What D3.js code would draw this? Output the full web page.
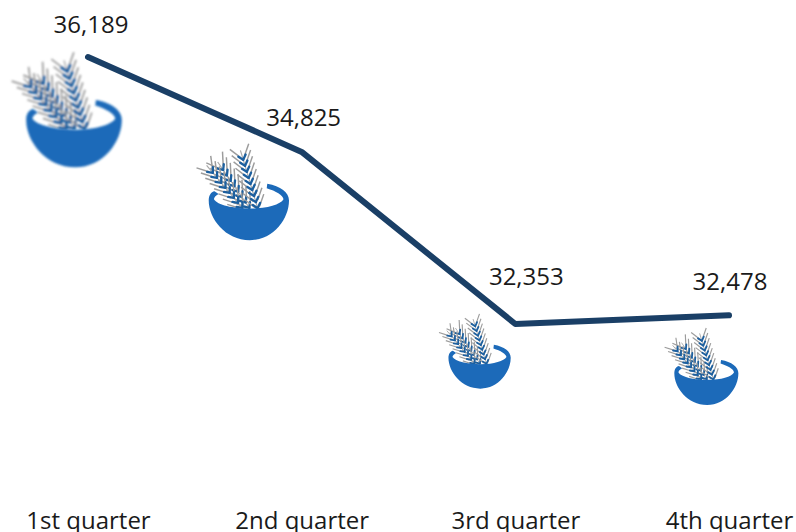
<!DOCTYPE html>
<html>
<head>
<meta charset="utf-8">
<script src="https://cdn.jsdelivr.net/npm/d3@7"></script>
<style>
html,body{margin:0;padding:0;background:#fff}
svg{display:block}
text{font-family:"Open Sans",sans-serif;font-size:24px;fill:#1a1a1a}
</style>
</head>
<body>
<svg id="chart" width="796" height="532"></svg>
<script>
const categories = ["1st quarter","2nd quarter","3rd quarter","4th quarter"];
const values = [36189,34825,32353,32478];
const valueLabels = ["36,189","34,825","32,353","32,478"];

// layout only
const labelDx = [3,2,11,1], labelDy = [-24,-26,-39,-25];
const iconDx = [-19,-57,-39,-26], iconDy = [54,41,28,52];
const iconW = [106,89,69,71];

const svg=d3.select("#chart");
const x=d3.scalePoint().domain(categories).range([88,729]);
const y=d3.scaleLinear().domain([32353,36189]).range([324,57]);

const defs=svg.append("defs");
defs.append("filter").attr("id","soft").attr("x","-10%").attr("y","-10%").attr("width","120%").attr("height","120%")
  .append("feGaussianBlur").attr("stdDeviation",2.6);
const sym=defs.append("g").attr("id","icon");

// icon glyph drawn in a 307x325 design box
const ears=[
  {tip:[96,100],base:[190,236],n:8,len:50,fan:34},
  {tip:[60,110],base:[166,236],n:8,len:46,fan:32},
  {tip:[166,64],base:[218,238],n:9,len:44,fan:34}
];
sym.append("path").attr("fill","#fff").attr("d","M66,204 C90,172 280,172 306,204 C296,226 250,240 192,240 C132,240 78,224 66,204Z");
const wheat=sym.append("g").attr("filter","url(#soft)");
ears.forEach(e=>{
  const dx=e.base[0]-e.tip[0],dy=e.base[1]-e.tip[1],L=Math.hypot(dx,dy);
  const ux=dx/L,uy=dy/L,nx=-uy,ny=ux;
  d3.range(e.n).forEach(i=>{
    const t=i/(e.n-1);
    const px=e.tip[0]+dx*t,py=e.tip[1]+dy*t;
    [-1,1].forEach(s=>{
      const ax=px+nx*s*e.fan-ux*e.len,ay=py+ny*s*e.fan-uy*e.len;
      wheat.append("line").attr("x1",px+nx*s*8-ux*8).attr("y1",py+ny*s*8-uy*8).attr("x2",ax).attr("y2",ay)
        .attr("stroke","#9c9c9c").attr("stroke-width",5);
    });
  });
  wheat.append("line").attr("x1",e.tip[0]-ux*30).attr("y1",e.tip[1]-uy*30).attr("x2",e.base[0]).attr("y2",e.base[1])
    .attr("stroke","#a8a8a8").attr("stroke-width",4);
  d3.range(e.n).forEach(i=>{
    const t=0.02+0.96*i/(e.n-1);
    const px=e.tip[0]+dx*t,py=e.tip[1]+dy*t;
    [-1,1].forEach(s=>{
      wheat.append("line").attr("x1",px).attr("y1",py)
        .attr("x2",px+nx*s*13-ux*15).attr("y2",py+ny*s*13-uy*15)
        .attr("stroke","#1f609f").attr("stroke-width",8).attr("stroke-linecap","round");
    });
  });
});
sym.append("g").attr("filter","url(#soft)").append("path").attr("fill","#1d6ab9")
  .attr("d","M48,208 C48,190 56,178 68,176 L82,186 C72,192 66,198 66,204 C78,224 132,236 192,236 C250,236 296,222 306,204 C304,190 280,176 248,166 L250,150 C296,158 325,180 325,208 C325,270 272,345 190,345 C105,345 48,270 48,208Z");

// icons
svg.append("g").selectAll("use").data(values).join("use")
  .attr("href","#icon")
  .attr("transform",(d,i)=>{
    const k=iconW[i]/307;
    return `translate(${x(categories[i])+iconDx[i]},${y(d)+iconDy[i]}) scale(${k}) translate(-172,-182)`;
  });

// line
svg.append("path").datum(values)
  .attr("fill","none").attr("stroke","#1a3f66").attr("stroke-width",6).attr("stroke-linecap","round").attr("stroke-linejoin","round")
  .attr("d",d3.line().x((d,i)=>x(categories[i])).y(d=>y(d)));

// value labels
svg.append("g").selectAll("text").data(values).join("text")
  .attr("text-anchor","middle")
  .attr("x",(d,i)=>x(categories[i])+labelDx[i])
  .attr("y",(d,i)=>y(d)+labelDy[i])
  .text((d,i)=>valueLabels[i]);

// axis labels
const axis=d3.axisBottom(x).tickSize(0).tickPadding(0);
const ag=svg.append("g").attr("transform","translate(0,512)").call(axis);
ag.select(".domain").remove();
ag.selectAll("text").attr("style","font-family:'Open Sans',sans-serif;font-size:24px;fill:#1a1a1a");
</script>
</body>
</html>
